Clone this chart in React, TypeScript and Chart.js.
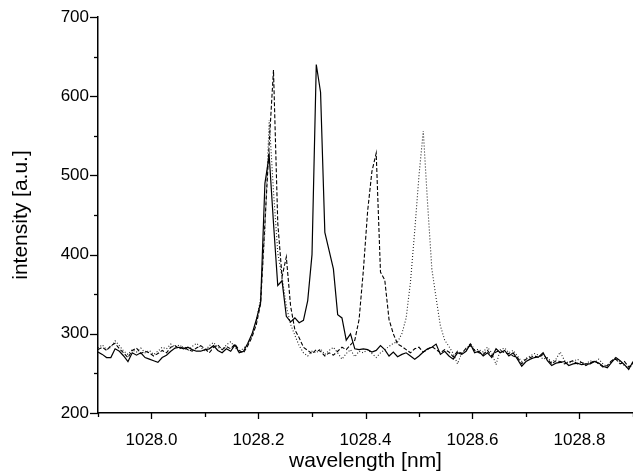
import React, { useEffect, useRef } from "react";
import { Chart, registerables } from "chart.js";

Chart.register(...registerables);

// Wavelength grid [nm]
const WAVELENGTHS: number[] = [
  1027.900, 1027.908, 1027.916, 1027.924, 1027.932, 1027.940, 1027.948, 1027.956, 1027.964, 1027.972,
  1027.980, 1027.988, 1027.996, 1028.004, 1028.012, 1028.020, 1028.028, 1028.036, 1028.044, 1028.052,
  1028.060, 1028.068, 1028.076, 1028.084, 1028.092, 1028.100, 1028.108, 1028.116, 1028.124, 1028.132,
  1028.140, 1028.148, 1028.156, 1028.164, 1028.172, 1028.180, 1028.188, 1028.196, 1028.204, 1028.212,
  1028.220, 1028.228, 1028.236, 1028.244, 1028.252, 1028.260, 1028.268, 1028.276, 1028.284, 1028.292,
  1028.300, 1028.308, 1028.316, 1028.324, 1028.332, 1028.340, 1028.348, 1028.356, 1028.364, 1028.372,
  1028.380, 1028.388, 1028.396, 1028.404, 1028.412, 1028.420, 1028.428, 1028.436, 1028.444, 1028.452,
  1028.460, 1028.468, 1028.476, 1028.484, 1028.492, 1028.500, 1028.508, 1028.516, 1028.524, 1028.532,
  1028.540, 1028.548, 1028.556, 1028.564, 1028.572, 1028.580, 1028.588, 1028.596, 1028.604, 1028.612,
  1028.620, 1028.628, 1028.636, 1028.644, 1028.652, 1028.660, 1028.668, 1028.676, 1028.684, 1028.692,
  1028.700, 1028.708, 1028.716, 1028.724, 1028.732, 1028.740, 1028.748, 1028.756, 1028.764, 1028.772,
  1028.780, 1028.788, 1028.796, 1028.804, 1028.812, 1028.820, 1028.828, 1028.836, 1028.844, 1028.852,
  1028.860, 1028.868, 1028.876, 1028.884, 1028.892, 1028.900,
];

// Solid line spectrum [a.u.]
const SOLID: number[] = [
  277, 274, 270, 270, 281, 278, 272, 265, 276, 273,
  276, 270, 268, 266, 264, 270, 273, 278, 282, 283,
  281, 283, 280, 278, 278, 280, 281, 285, 279, 276,
  281, 278, 286, 276, 278, 288, 300, 318, 340, 490,
  525, 440, 361, 367, 322, 315, 320, 314, 317, 342,
  400, 640, 605, 428, 405, 382, 324, 320, 292, 300,
  281, 280, 281, 280, 277, 279, 285, 280, 272, 277,
  271, 274, 276, 272, 268, 272, 277, 281, 283, 287,
  274, 278, 272, 268, 276, 274, 278, 287, 276, 278,
  272, 276, 270, 281, 276, 279, 272, 276, 268, 259,
  265, 268, 270, 271, 276, 266, 260, 263, 264, 265,
  260, 262, 263, 261, 262, 262, 265, 263, 259, 257,
  264, 270, 266, 261, 255, 265,
];

// Dashed line spectrum [a.u.]
const DASHED: number[] = [
  280, 283, 279, 285, 288, 281, 276, 270, 279, 282,
  275, 278, 276, 272, 275, 279, 276, 283, 285, 281,
  284, 280, 278, 282, 285, 281, 276, 283, 286, 280,
  284, 281, 287, 279, 276, 285, 296, 312, 338, 440,
  540, 633, 440, 372, 397, 335, 305, 295, 283, 279,
  275, 280, 278, 272, 276, 273, 278, 283, 280, 286,
  292, 318, 380, 455, 505, 528, 378, 368, 318, 300,
  287, 284, 280, 276, 281, 283, 277, 280, 284, 280,
  276, 280, 277, 271, 278, 275, 282, 285, 279, 276,
  274, 279, 272, 277, 279, 276, 275, 272, 270, 262,
  268, 270, 272, 270, 274, 268, 262, 266, 265, 262,
  264, 266, 262, 264, 260, 263, 266, 262, 258, 260,
  266, 268, 262, 265, 258, 263,
];

// Dotted line spectrum [a.u.]
const DOTTED: number[] = [
  282, 286, 280, 283, 291, 285, 278, 274, 280, 277,
  282, 276, 279, 274, 278, 283, 281, 287, 283, 286,
  282, 279, 284, 288, 283, 278, 285, 289, 283, 280,
  286, 290, 283, 277, 282, 286, 298, 315, 345, 430,
  570, 480, 402, 372, 335, 312, 298, 285, 276, 272,
  278, 276, 281, 274, 279, 283, 276, 268, 275, 280,
  271, 278, 276, 280, 275, 270, 276, 280, 284, 288,
  290, 300, 320, 365, 430, 500, 556, 465, 382, 345,
  310, 292, 284, 275, 262, 276, 280, 288, 280, 280,
  277, 283, 276, 261, 280, 282, 276, 279, 272, 265,
  269, 272, 275, 273, 268, 270, 264, 268, 277, 266,
  263, 265, 268, 264, 262, 266, 264, 268, 262, 258,
  266, 270, 264, 260, 256, 262,
];

const X_MIN = 1027.9;
const X_MAX = 1028.9;
const Y_MIN = 200;
const Y_MAX = 700;
const X_TITLE = "wavelength [nm]";
const Y_TITLE = "intensity [a.u.]";

const FONT = "'Liberation Sans', Arial, sans-serif";

const tickMarks = {
  id: "tickMarks",
  afterDraw(chart: any) {
    const { ctx, chartArea } = chart;
    const xs = chart.scales.x;
    const ys = chart.scales.y;
    ctx.save();
    ctx.strokeStyle = "#000";
    ctx.lineWidth = 1.3;
    xs.ticks.forEach((t: any) => {
      const k = Math.round(t.value * 10);
      const major = k % 2 === 0;
      const px = Math.round(xs.getPixelForValue(t.value)) + 0.5;
      ctx.beginPath();
      ctx.moveTo(px, chartArea.bottom);
      ctx.lineTo(px, chartArea.bottom + (major ? 6 : 4));
      ctx.stroke();
    });
    ys.ticks.forEach((t: any) => {
      const major = Math.round(t.value) % 100 === 0;
      const py = Math.round(ys.getPixelForValue(t.value)) + 0.5;
      ctx.beginPath();
      ctx.moveTo(chartArea.left, py);
      ctx.lineTo(chartArea.left - (major ? 8 : 4), py);
      ctx.stroke();
    });
    ctx.restore();
  },
};

export default function App() {
  const ref = useRef<HTMLCanvasElement | null>(null);

  useEffect(() => {
    if (!ref.current) return;
    const mk = (vals: number[]) => vals.map((v, i) => ({ x: WAVELENGTHS[i], y: v }));
    const chart = new Chart(ref.current, {
      type: "line",
      data: {
        datasets: [
          {
            label: "solid",
            data: mk(SOLID),
            borderColor: "#000",
            borderWidth: 1.2,
            pointRadius: 0,
            tension: 0,
          },
          {
            label: "dashed",
            data: mk(DASHED),
            borderColor: "#000",
            borderWidth: 1.1,
            borderDash: [4, 2],
            pointRadius: 0,
            tension: 0,
          },
          {
            label: "dotted",
            data: mk(DOTTED),
            borderColor: "#222",
            borderWidth: 1.1,
            borderDash: [1, 2],
            pointRadius: 0,
            tension: 0,
          },
        ],
      },
      options: {
        animation: false,
        responsive: false,
        devicePixelRatio: 1,
        layout: { padding: { top: 17, right: 0, left: 0, bottom: 0 } },
        plugins: { legend: { display: false }, tooltip: { enabled: false } },
        scales: {
          x: {
            type: "linear",
            min: X_MIN,
            max: X_MAX,
            afterFit: (s: any) => {
              s.height = 61;
              s.paddingLeft = 0;
              s.paddingRight = 0;
            },
            border: { display: true, color: "#000", width: 1.5 },
            grid: { display: false, drawTicks: false },
            ticks: {
              stepSize: 0.1,
              autoSkip: false,
              maxRotation: 0,
              padding: 17,
              color: "#000",
              font: { family: FONT, size: 17 },
              callback: (v: any) => {
                const k = Math.round(Number(v) * 10);
                return k % 2 === 0 ? (k / 10).toFixed(1) : "";
              },
            },
            title: {
              display: true,
              text: X_TITLE,
              color: "#000",
              font: { family: FONT, size: 21 },
              padding: { top: 0, bottom: 0 },
            },
          },
          y: {
            type: "linear",
            min: Y_MIN,
            max: Y_MAX,
            afterFit: (s: any) => {
              s.width = 98;
              s.paddingTop = 0;
              s.paddingBottom = 0;
            },
            border: { display: true, color: "#000", width: 1.5 },
            grid: { display: false, drawTicks: false },
            ticks: {
              stepSize: 50,
              autoSkip: false,
              padding: 9,
              color: "#000",
              font: { family: FONT, size: 17 },
              callback: (v: any) => {
                const n = Math.round(Number(v));
                return n % 100 === 0 ? String(n) : "";
              },
            },
            title: {
              display: true,
              text: Y_TITLE,
              color: "#000",
              font: { family: FONT, size: 21 },
              padding: { top: 9, bottom: 0 },
            },
          },
        },
      },
      plugins: [tickMarks],
    });
    return () => chart.destroy();
  }, []);

  return (
    <div style={{ position: "fixed", left: 0, top: 0, width: 633, height: 474, background: "#fff" }}>
      <canvas ref={ref} width={633} height={474} style={{ width: 633, height: 474 }} />
    </div>
  );
}
